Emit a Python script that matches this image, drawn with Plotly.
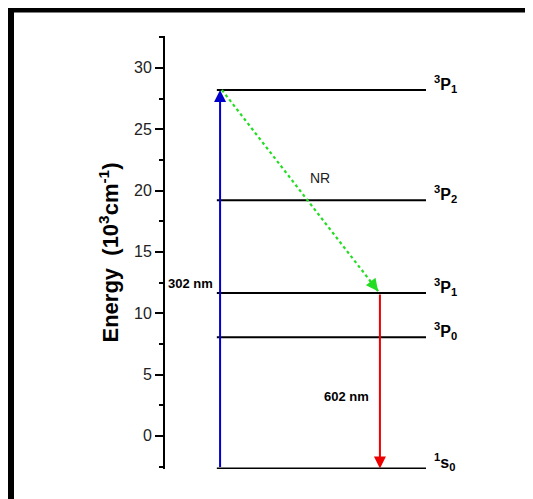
import plotly.graph_objects as go

# ---- data ----
level_labels = ["<sup>3</sup>P<sub>1</sub>", "<sup>3</sup>P<sub>2</sub>", "<sup>3</sup>P<sub>1</sub>",
                "<sup>3</sup>P<sub>0</sub>", "<sup>1</sup>s<sub>0</sub>"]
level_energy = [28.2, 19.2, 11.65, 8.05, -2.65]
level_x_start = 1.44
level_x_end = 7.25

y_ticks = [0, 5, 10, 15, 20, 25, 30]

excite_x = 1.53            # 302 nm absorption
excite_from, excite_to = -2.65, 28.2
emit_x = 5.97              # 602 nm emission
emit_from, emit_to = 11.65, -2.65
nr_start = (1.58, 28.2)    # non-radiative relaxation
nr_end = (5.92, 11.8)

# page body has an 8px margin, so the figure is drawn 8px smaller
OFF = 8
W, H = 533 - OFF, 499 - OFF
ML, MR, MT, MB = 165 - OFF, 8, 36 - OFF, 29.5

FONT = "Liberation Sans, Arial"

fig = go.Figure()

# energy levels
for e in level_energy:
    fig.add_trace(go.Scatter(x=[level_x_start, level_x_end], y=[e, e], mode="lines",
                             line=dict(color="black", width=2), hoverinfo="skip", showlegend=False))

# NR dotted line
fig.add_trace(go.Scatter(x=[nr_start[0], nr_end[0]], y=[nr_start[1], nr_end[1]], mode="lines",
                         line=dict(color="#22DD22", width=2.2, dash="dot"),
                         hoverinfo="skip", showlegend=False))

ann = []
# blue arrow
ann.append(dict(x=excite_x, y=excite_to, ax=excite_x, ay=excite_from, xref="x", yref="y",
                axref="x", ayref="y", text="", showarrow=True, arrowhead=2, arrowsize=1.2,
                arrowwidth=2, arrowcolor="#0000CC"))
# red arrow
ann.append(dict(x=emit_x, y=emit_to, ax=emit_x, ay=emit_from, xref="x", yref="y",
                axref="x", ayref="y", text="", showarrow=True, arrowhead=2, arrowsize=1.2,
                arrowwidth=2, arrowcolor="#EE0000"))
# green arrow head
dx = nr_end[0] - nr_start[0]
dy = nr_end[1] - nr_start[1]
ann.append(dict(x=nr_end[0], y=nr_end[1], ax=nr_end[0] - 0.06 * dx, ay=nr_end[1] - 0.06 * dy,
                xref="x", yref="y", axref="x", ayref="y", text="", showarrow=True,
                arrowhead=2, arrowsize=1.1, arrowwidth=2.2, arrowcolor="#22DD22"))

# level labels
for lab, e in zip(level_labels, level_energy):
    ann.append(dict(x=level_x_end, y=e, xref="x", yref="y", text=lab, showarrow=False,
                    xanchor="left", yanchor="middle", xshift=6, yshift=6,
                    font=dict(family=FONT, size=16, color="black", weight="bold")))

# transition labels
ann.append(dict(x=excite_x, y=12.45, xref="x", yref="y", text="<b>302 nm</b>", showarrow=False,
                xanchor="right", yanchor="middle", xshift=-5,
                font=dict(family=FONT, size=13, color="black")))
ann.append(dict(x=emit_x, y=3.18, xref="x", yref="y", text="<b>602 nm</b>", showarrow=False,
                xanchor="right", yanchor="middle", xshift=-9,
                font=dict(family=FONT, size=13, color="black")))
ann.append(dict(x=4.31, y=21.0, xref="x", yref="y", text="NR", showarrow=False,
                xanchor="center", yanchor="middle",
                font=dict(family=FONT, size=14, color="#222")))

# frame (top/left visible)
pw = W - ML - MR
ph = H - MT - MB
frame = dict(type="rect", xref="paper", yref="paper",
             x0=(3 - ML) / pw, x1=(W + 20 - ML) / pw,
             y0=(H - MB - (H + 20)) / ph, y1=(H - MB - 1.5) / ph,
             line=dict(color="black", width=6), fillcolor="rgba(0,0,0,0)")

fig.update_layout(
    width=W, height=H,
    margin=dict(l=ML, r=MR, t=MT, b=MB),
    paper_bgcolor="white", plot_bgcolor="white",
    annotations=ann, shapes=[frame],
    xaxis=dict(range=[0, 10], visible=False, fixedrange=True),
    yaxis=dict(range=[-2.7, 32.6], showgrid=False, zeroline=False, showline=True,
               linecolor="black", linewidth=2, ticks="outside", ticklen=8, tickwidth=1.5,
               tickcolor="black", tickvals=y_ticks,
               tickfont=dict(family=FONT, size=16, color="#222"),
               minor=dict(dtick=2.5, tick0=0, ticks="outside", ticklen=4, tickwidth=1.5,
                          tickcolor="black"),
               title=dict(text="<b>Energy  (10<sup>3</sup>cm<sup>-1</sup>)</b>", standoff=9,
                          font=dict(family=FONT, size=22, color="black"))),
    showlegend=False,
)

fig.write_html("out.html")
